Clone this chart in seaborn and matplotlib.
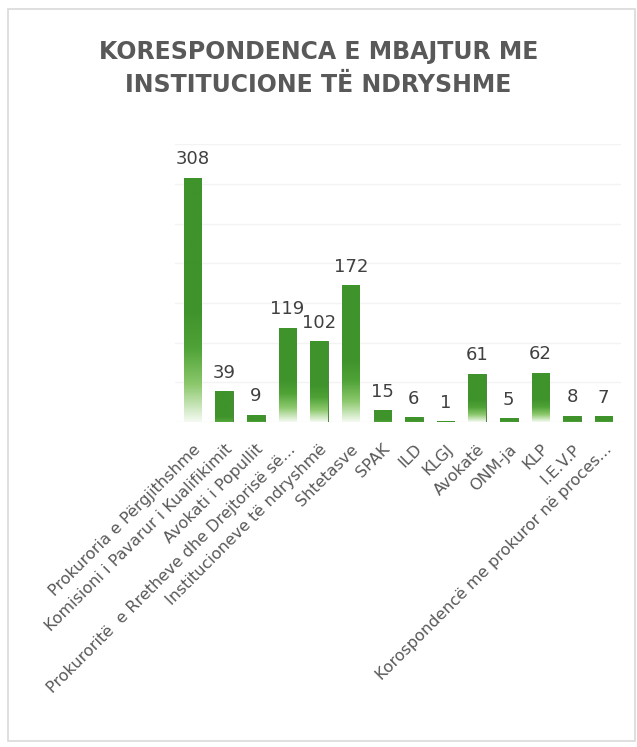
import numpy as np
import pandas as pd
import seaborn as sns
import matplotlib.pyplot as plt
from matplotlib.colors import LinearSegmentedColormap
from matplotlib.patches import Rectangle

institutions = ['Prokuroria e Përgjithshme', 'Komisioni i Pavarur i Kualifikimit',
                'Avokati i Popullit', 'Prokuroritë  e Rretheve dhe Drejtorisë së...',
                'Institucioneve të ndryshmë', 'Shtetasve', 'SPAK', 'ILD', 'KLGJ',
                'Avokatë', 'ONM-ja', 'KLP', 'I.E.V.P',
                'Korospondencë me prokuror në proces...']
counts = [308, 39, 9, 119, 102, 172, 15, 6, 1, 61, 5, 62, 8, 7]

df = pd.DataFrame({'inst': institutions, 'count': counts})

sns.set_theme(style='white')
plt.rcParams['font.family'] = ['DejaVu Sans']

fig = plt.figure(figsize=(6.37, 7.47), dpi=100)
ax = fig.add_axes([0.275, 0.435, 0.70, 0.372])

sns.barplot(data=df, x='inst', y='count', color='#4c9f38', width=0.55, ax=ax)
ax.set_ylim(0, 350)
ax.set_yticks(np.arange(0, 351, 50))
ax.yaxis.grid(True, color='#f3f3f3', linewidth=1)
ax.set_axisbelow(True)
ax.tick_params(axis='y', left=False, labelleft=False)
for s in ax.spines.values():
    s.set_visible(False)
ax.set_xlabel('')
ax.set_ylabel('')

# each bar: solid green on top, fading to white near its base
cmap = LinearSegmentedColormap.from_list('g', ['#f4faf1', '#8cc86c', '#4ea236', '#3f932b'])
grad = np.linspace(0, 1, 256).reshape(-1, 1)
grad = np.clip(grad * 2.2, 0, 1)
for p in ax.patches:
    x0, w, h = p.get_x(), p.get_width(), p.get_height()
    g = grad if h > 40 else np.clip(grad + 0.6, 0, 1)
    im = ax.imshow(g, cmap=cmap, aspect='auto', origin='lower', vmin=0, vmax=1,
                   extent=[x0, x0 + w, 0, max(h, 1)], zorder=2)
    im.set_clip_path(p)
    p.set_facecolor('none')
    p.set_edgecolor('#2f6f1f')
    p.set_linewidth(0.6)
    ax.text(x0 + w / 2, h + 12, f'{int(h)}', ha='center', va='bottom',
            fontsize=13, color='#404040')
ax.set_xlim(-0.55, len(counts) - 0.45)

ax.set_xticks(range(len(institutions)))
ax.set_xticklabels(institutions, rotation=45, ha='right', rotation_mode='anchor',
                   fontsize=11.5, color='#595959')
ax.tick_params(axis='x', bottom=False, pad=8)

fig.text(0.5, 0.908, 'KORESPONDENCA E MBAJTUR ME\nINSTITUCIONE TË NDRYSHME',
         ha='center', va='center', fontsize=17, fontweight='bold',
         color='#595959', linespacing=1.45)

fig.patches.append(Rectangle((0.012, 0.008), 0.985, 0.98, transform=fig.transFigure,
                             fill=False, edgecolor='#d9d9d9', linewidth=1.2))

fig.savefig('out.png', dpi=100, facecolor='white')
